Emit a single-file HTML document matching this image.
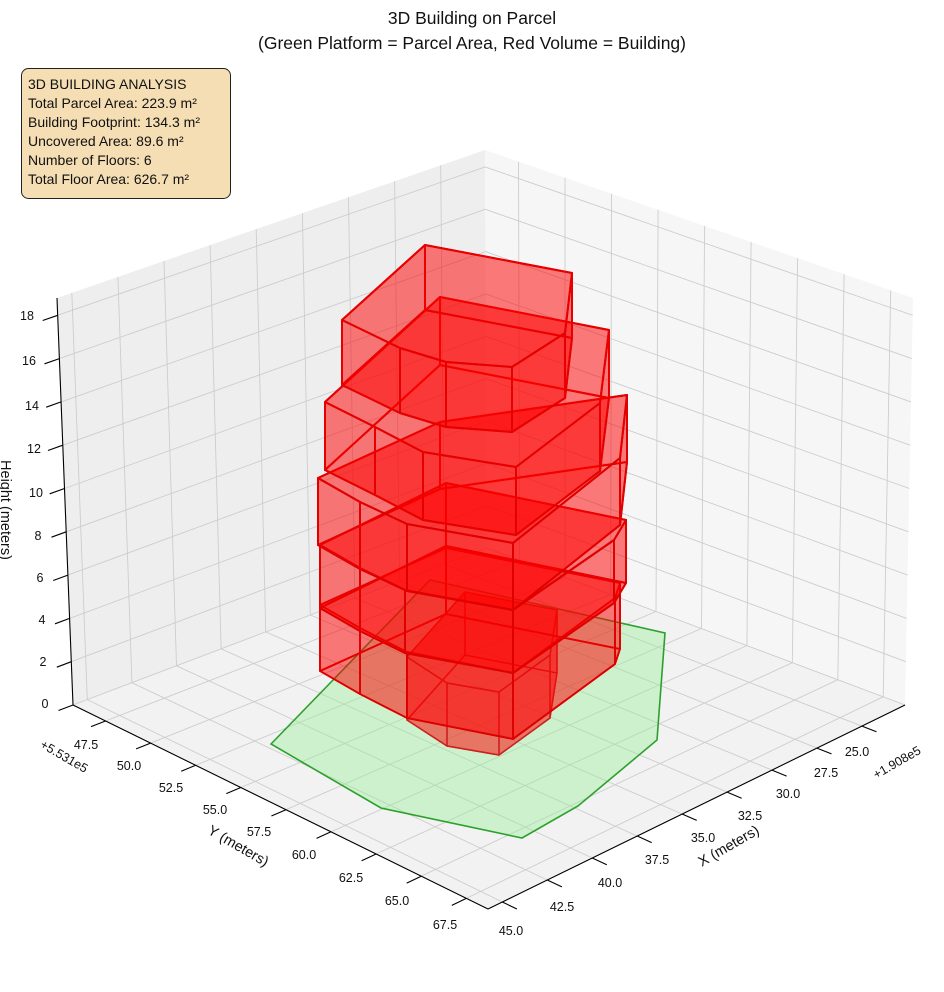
<!DOCTYPE html>
<html><head><meta charset="utf-8"><style>
html,body{margin:0;padding:0;background:#fff;}
svg{display:block;font-family:"Liberation Sans","DejaVu Sans",sans-serif;}
</style></head><body>
<svg id="s" width="944" height="992" viewBox="0 0 944 992" xmlns="http://www.w3.org/2000/svg">
<g id="panes"></g>
<g id="grid" stroke="#cdcdcd" stroke-width="0.9" fill="none"></g>
<polygon points="271,744 430,580 665,633 657,740 578,806 522,838 381,808" fill="#90ee90" fill-opacity="0.38" stroke="#2ca02c" stroke-width="1.6"/>
<g id="bld"></g>
<g id="axes" stroke="#000" stroke-width="1.1" fill="none"></g>
<g font-size="12.5" fill="#111" text-anchor="middle">
<text x="45" y="708">0</text><text x="43" y="666">2</text><text x="42" y="624">4</text><text x="40" y="582">6</text><text x="38" y="540">8</text><text x="36" y="497">10</text><text x="34" y="453">12</text><text x="32" y="410">14</text><text x="29" y="365">16</text><text x="27" y="320">18</text>
<text x="857" y="756">25.0</text><text x="826" y="777">27.5</text><text x="788" y="798">30.0</text><text x="750" y="820">32.5</text><text x="703" y="842">35.0</text><text x="657" y="864">37.5</text><text x="610" y="887">40.0</text><text x="562" y="911">42.5</text><text x="511" y="935">45.0</text>
<text x="86" y="749">47.5</text><text x="129" y="770">50.0</text><text x="171" y="792">52.5</text><text x="215" y="814">55.0</text><text x="259" y="836">57.5</text><text x="304" y="859">60.0</text><text x="351" y="882">62.5</text><text x="397" y="905">65.0</text><text x="445" y="929">67.5</text>
<text transform="translate(62,760) rotate(30)">+5.531e5</text>
<text transform="translate(899,766) rotate(-30)">+1.908e5</text>
</g>
<g font-size="14.5" fill="#111" text-anchor="middle">
<text transform="translate(236,850) rotate(30)">Y (meters)</text>
<text transform="translate(731,850) rotate(-30)">X (meters)</text>
<text transform="translate(1,510) rotate(90)">Height (meters)</text>
</g>
<g font-size="17.5" fill="#111" text-anchor="middle">
<text x="472" y="24">3D Building on Parcel</text>
<text x="472" y="49">(Green Platform = Parcel Area, Red Volume = Building)</text>
</g>
<rect x="21.5" y="68.5" width="209" height="130" rx="7" fill="#f5deb3" stroke="#222" stroke-width="1"/>
<g font-size="14" fill="#111">
<text x="28" y="89">3D BUILDING ANALYSIS</text>
<text x="28" y="108">Total Parcel Area: 223.9 m²</text>
<text x="28" y="127">Building Footprint: 134.3 m²</text>
<text x="28" y="146">Uncovered Area: 89.6 m²</text>
<text x="28" y="165">Number of Floors: 6</text>
<text x="28" y="184">Total Floor Area: 626.7 m²</text>
</g>
</svg>
<script>
(function(){
var NS="http://www.w3.org/2000/svg";
var B0=[487,548],L0=[73,705],R0=[905,705],F0=[488,909];
var B1=[485,150],L1=[57,298],R1=[913,298],F1=[489,489];
function bl(a,b,c,d,u,v){return [a[0]*(1-u)*(1-v)+b[0]*u*(1-v)+c[0]*(1-u)*v+d[0]*u*v,a[1]*(1-u)*(1-v)+b[1]*u*(1-v)+c[1]*(1-u)*v+d[1]*u*v];}
function P(u,v,w){var p=bl(B0,L0,R0,F0,u,v),q=bl(B1,L1,R1,F1,u,v);return [p[0]*(1-w)+q[0]*w,p[1]*(1-w)+q[1]*w];}
function el(tag,at,par){var e=document.createElementNS(NS,tag);for(var k in at)e.setAttribute(k,at[k]);par.appendChild(e);return e;}
function pts(a){return a.map(function(p){return p[0].toFixed(1)+","+p[1].toFixed(1);}).join(" ");}
var panes=document.getElementById("panes"),grid=document.getElementById("grid"),axes=document.getElementById("axes"),bld=document.getElementById("bld");
el("polygon",{points:pts([L0,L1,B1,B0]),fill:"#eeeeee"},panes);
el("polygon",{points:pts([B0,B1,R1,R0]),fill:"#f6f6f6"},panes);
el("polygon",{points:pts([B0,L0,F0,R0]),fill:"#f2f2f2"},panes);
var xmin=22.6,xmax=45.8,ymin=45.7,ymax=68.7,zmax=18.8;
function ln(a,b,par){el("line",{x1:a[0].toFixed(1),y1:a[1].toFixed(1),x2:b[0].toFixed(1),y2:b[1].toFixed(1)},par);}
for(var x=25;x<=45.01;x+=2.5){var u=(x-xmin)/(xmax-xmin);
 ln(P(u,0,0),P(u,0,1),grid);ln(P(u,0,0),P(u,1,0),grid);
 ln(P(u,1,0),P(u,1.035,0),axes);}
for(var y=47.5;y<=67.51;y+=2.5){var v=(y-ymin)/(ymax-ymin);
 ln(P(0,v,0),P(0,v,1),grid);ln(P(0,v,0),P(1,v,0),grid);
 ln(P(1,v,0),P(1.035,v,0),axes);}
for(var z=0;z<=18.01;z+=2){var w=z/zmax;
 ln(P(0,0,w),P(1,0,w),grid);ln(P(0,0,w),P(0,1,w),grid);
 ln(P(1,0,w),P(1.035,0,w),axes);}
ln(R0,F0,axes);ln(L0,F0,axes);ln(L0,L1,axes);
function prism(top,h,sw,col){
 var bot=top.map(function(p){return [p[0],p[1]+h];});
 var st={fill:"#ff0000","fill-opacity":"0.3",stroke:col,"stroke-width":sw,"stroke-linejoin":"round"};
 el("polygon",Object.assign({points:pts(bot)},st),bld);
 for(var i=0;i<top.length;i++){var j=(i+1)%top.length;
  el("polygon",Object.assign({points:pts([top[i],top[j],bot[j],bot[i]])},st),bld);}
 el("polygon",Object.assign({points:pts(top)},st),bld);
}
prism([[407,657],[465,592],[557,610],[550,655],[499,692],[447,683]],63,1.4,"#cc2222");
prism([[320,605],[446,548],[620,583],[615,598],[513,673],[407,652],[360,628]],66,1.8,"#dd0000");
prism([[320,545],[446,483],[626,520],[614,540],[513,610],[405,590],[360,568]],63,2,"#e00000");
prism([[318,478],[440,422],[627,395],[620,458],[513,543],[407,524],[360,502]],67,2,"#e00000");
prism([[325,402],[440,297],[609,330],[600,403],[516,467],[423,452],[375,427]],68,2,"#e60000");
prism([[342,320],[425,245],[572,273],[565,333],[512,367],[446,362],[400,348]],65,2,"#e60000");
})();
</script>
</body></html>
